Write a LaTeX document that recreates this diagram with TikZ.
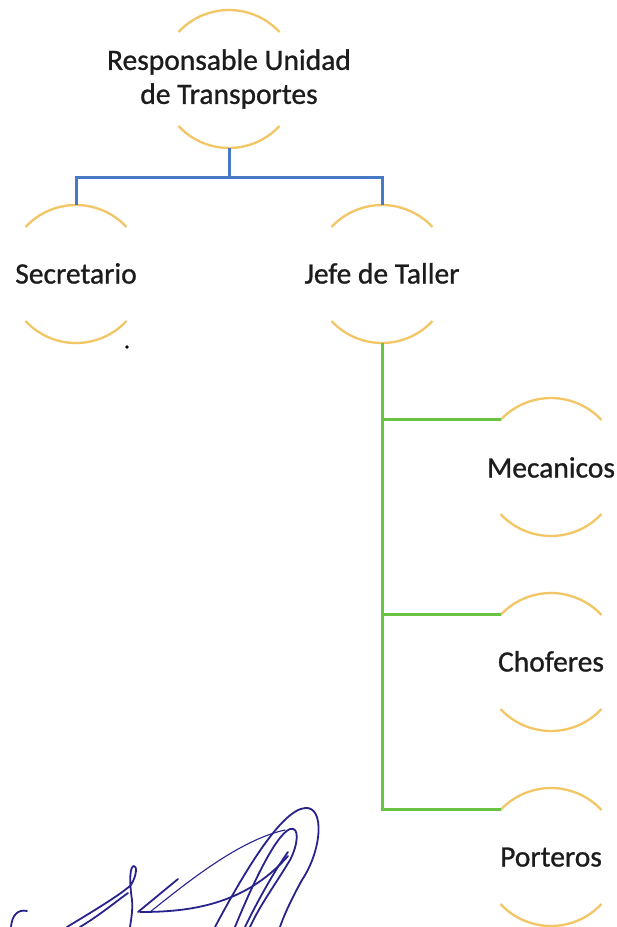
\documentclass[tikz,border=0pt]{standalone}
\usepackage{fontspec}
\setmainfont{Carlito}[FakeBold=0.9]
\definecolor{arcgold}{RGB}{242,198,100}
\definecolor{orgblue}{RGB}{70,122,196}
\definecolor{orggreen}{RGB}{106,196,66}
\definecolor{ink}{RGB}{40,35,140}
\definecolor{txt}{RGB}{28,28,28}
\begin{document}
\begin{tikzpicture}[x=1pt,y=-1pt,
 ring/.style={circle,minimum size=138pt,inner sep=0pt,outer sep=0pt,draw=none},
 lbl/.style={font=\fontsize{29.5pt}{34pt}\selectfont,text=txt,inner sep=0pt,align=center},
 arcline/.style={draw=arcgold,line width=2.3pt},
 bluecon/.style={draw=orgblue,line width=3pt},
 greencon/.style={draw=orggreen,line width=3pt},
 sig/.style={draw=ink,line width=1.8pt,line cap=round,line join=round}]
\useasboundingbox[fill=white] (0,0) rectangle (617,927);

% rings
\node[ring] (respR) at (229,79) {};
\node[ring] (secR) at (76,274) {};
\node[ring] (jefeR) at (382,274) {};
\node[ring] (mecR) at (551,467) {};
\node[ring] (choR) at (551,662) {};
\node[ring] (porR) at (551,857) {};
\foreach \n in {respR,secR,jefeR,mecR,choR,porR}{
  \draw[arcline] (\n.137) arc[start angle=137,end angle=43,radius=69pt];
  \draw[arcline] (\n.223) arc[start angle=223,end angle=317,radius=69pt];
}

% labels
\node[lbl] (resp) at (respR.center) {Responsable Unidad\\de Transportes};
\node[lbl,anchor=base] (sec) at ([yshift=-9.5pt]secR.center) {Secretario};
\node[lbl,anchor=base] (jefe) at ([yshift=-9.5pt]jefeR.center) {Jefe de Taller};
\node[lbl,anchor=base] (mec) at ([yshift=-10.5pt]mecR.center) {Mecanicos};
\node[lbl,anchor=base] (cho) at ([yshift=-9.5pt]choR.center) {Choferes};
\node[lbl,anchor=base] (por) at ([yshift=-9.5pt]porR.center) {Porteros};

% blue connectors
\draw[bluecon] (respR.south) -- ++(0,29) coordinate (bj);
\draw[bluecon] (secR.north) |- (bj) -| (jefeR.north);

% green connectors
\draw[greencon] (jefeR.south) |- (porR.137);
\draw[greencon] (jefeR.south |- mecR.137) -- (mecR.137);
\draw[greencon] (jefeR.south |- choR.137) -- (choR.137);

% dot
\fill[black] (127,347) circle[radius=1.8pt];

% signature
\draw[sig] (27,911) .. controls (18,909) and (12,915) .. (11,927);
\draw[sig] (67,927) .. controls (95,910) and (120,895) .. (131,885)
   .. controls (137,875) and (137,866) .. (134,866)
   .. controls (130,866) and (129,880) .. (132,900)
   .. controls (133,910) and (131,920) .. (130,927);
\draw[sig] (80,927) .. controls (100,915) and (118,900) .. (128,893);
\draw[sig] (138,912) -- (178,879);
\draw[sig] (140,912) .. controls (190,912) and (245,905) .. (288,856);
\draw[sig,line width=1.1pt] (150,912) .. controls (190,880) and (240,840) .. (285,830);
\draw[sig] (215,927) .. controls (240,880) and (280,810) .. (305,808)
   .. controls (325,806) and (322,850) .. (302,880)
   .. controls (292,898) and (284,915) .. (280,927);
\draw[sig] (235,927) .. controls (250,890) and (275,835) .. (290,829)
   .. controls (300,826) and (298,845) .. (290,860)
   .. controls (275,885) and (260,905) .. (250,927);
\draw[sig] (245,927) .. controls (258,900) and (275,870) .. (288,852);
\end{tikzpicture}
\end{document}
